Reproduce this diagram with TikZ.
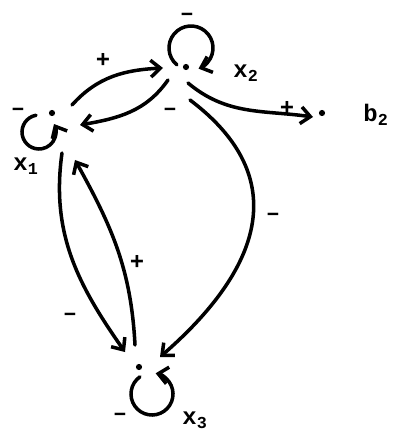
\documentclass[tikz,border=0pt]{standalone}
\usepackage{fontspec}
\usepackage{tikz}
\usetikzlibrary{arrows.meta}
\newfontfamily\tw{Liberation Mono}

\begin{document}
\begin{tikzpicture}[
    x=0.25mm, y=0.25mm,
    dot/.style={circle, fill=black, minimum size=4.4pt, inner sep=0pt},
    edge/.style={-{Straight Barb[length=2.4mm,width=4.2mm]}, line width=2.5pt, line cap=round},
    var/.style={font=\tw\bfseries\fontsize{17}{17}\selectfont, inner sep=0pt},
    sgn/.style={font=\tw\bfseries\fontsize{17}{17}\selectfont, inner sep=0pt, anchor=mid},
  ]
  \useasboundingbox (0,0) rectangle (394,-433);

  % variables
  \node[dot] (x1) at (52,-113) {};
  \node[dot] (x2) at (186,-67) {};
  \node[dot] (x3) at (139,-367) {};
  \node[dot] (b2) at (322,-113) {};
  \node[var] (lx1) at (26,-166) {x\textsubscript{1}};
  \node[var] (lx2) at (246,-73) {x\textsubscript{2}};
  \node[var] (lx3) at (195,-420) {x\textsubscript{3}};
  \node[var] (lb2) at (376,-115) {b\textsubscript{2}};

  % self loops
  \draw[edge] (x1) ++(-13,-19) ++(100:17) arc[start angle=100, end angle=388, radius=17];
  \draw[edge] (x2) ++(5,19) ++(230:22) arc[start angle=230, end angle=-70, radius=22];
  \draw[edge] (x3) ++(13,-27) ++(125:21) arc[start angle=125, end angle=440, radius=21];
  \node[sgn] (s11) at (18,-112) {–};
  \node[sgn] (s22) at (187,-17) {–};
  \node[sgn] (s33) at (120,-417) {–};

  % links between variables
  \draw[edge] ([shift={(20,8)}]x1.center) to[out=48, in=183] ([shift={(-23,-1)}]x2.center);
  \draw[edge] ([shift={(-18,-13)}]x2.center) to[out=235, in=10] ([shift={(28,-12)}]x1.center);
  \draw[edge] ([shift={(2,-16)}]x2.center) to[out=-40, in=172] ([shift={(-9,-4)}]b2.center);
  \draw[edge] ([shift={(4,-33)}]x2.center) to[out=-37, in=41, looseness=1.3] ([shift={(21,10)}]x3.center);
  \draw[edge] ([shift={(10,-40)}]x1.center) to[out=-98, in=125] ([shift={(-14,15)}]x3.center);
  \draw[edge] ([shift={(-4,22)}]x3.center) to[out=93, in=-61] ([shift={(23,-47)}]x1.center);
  \node[sgn] (s12) at (103,-64) {+};
  \node[sgn] (s21) at (170,-112) {–};
  \node[sgn] (s2b) at (287,-112) {+};
  \node[sgn] (s23) at (273,-217) {–};
  \node[sgn] (s13) at (70,-317) {–};
  \node[sgn] (s31) at (137,-266) {+};
\end{tikzpicture}
\end{document}
